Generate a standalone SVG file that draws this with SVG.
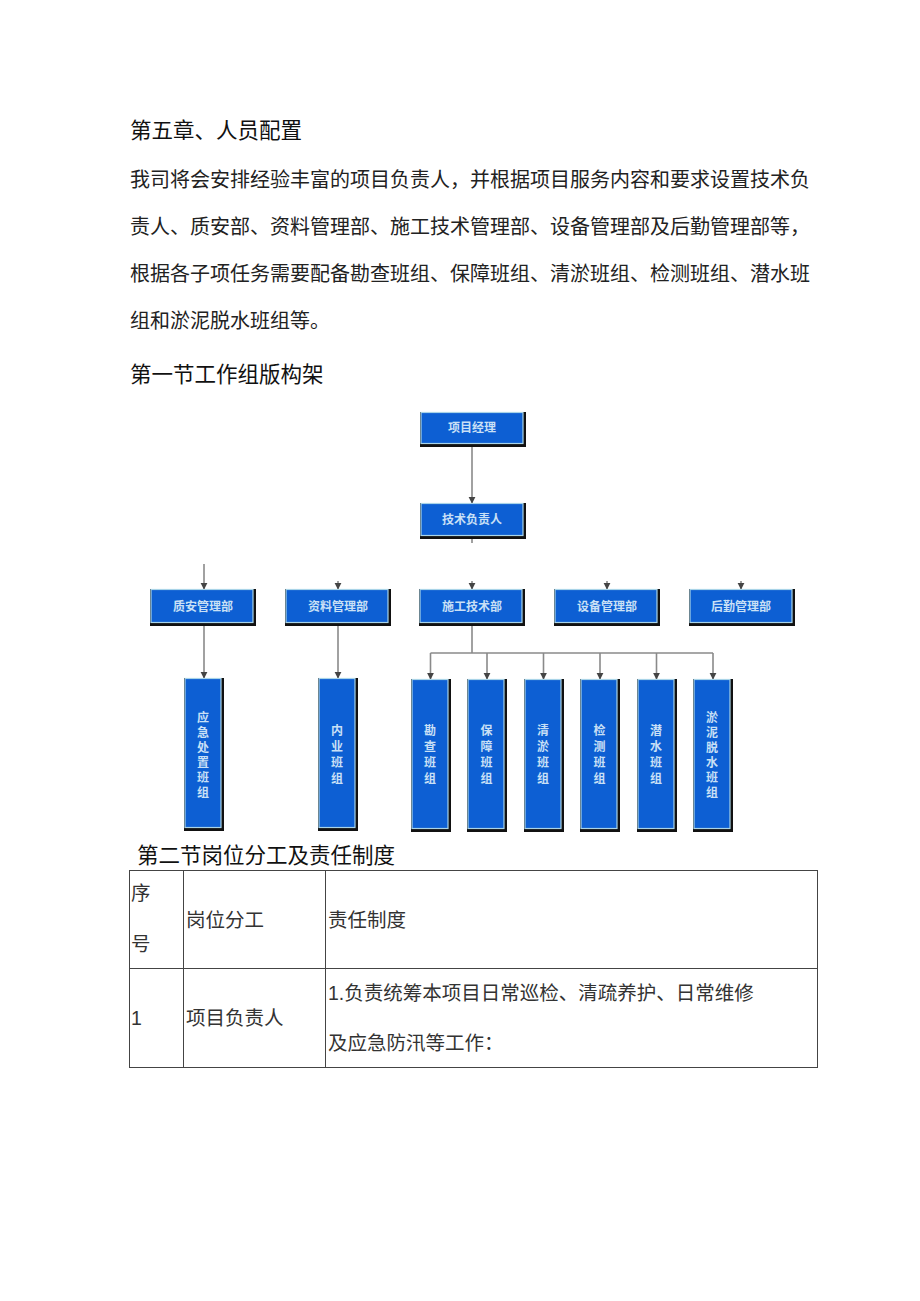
<svg xmlns="http://www.w3.org/2000/svg" width="920" height="1301" viewBox="0 0 920 1301">
<style>
.h{font-family:"Noto Sans CJK SC","Liberation Sans",sans-serif;font-size:21.5px;fill:#111}
.b{font-family:"Liberation Serif","Noto Sans CJK SC",serif;font-size:20px;fill:#222}
.t{font-family:"Liberation Sans","Noto Sans CJK SC",sans-serif;font-size:19.5px;fill:#333}
.bx{fill:#0d5fd3;stroke:#a9d4e8;stroke-width:1.2}
.sh{fill:#111}
.bt{font-family:"Noto Sans CJK SC",sans-serif;font-size:12px;font-weight:bold;fill:#c9e0f6;text-anchor:middle}
.ln{stroke:#8a8a8a;stroke-width:1.6;fill:none}
.tb{stroke:#444;stroke-width:1;fill:none}
</style>
<defs>
<marker id="ah" viewBox="0 0 10 10" refX="9" refY="5" markerWidth="4.5" markerHeight="4.5" orient="auto" markerUnits="strokeWidth">
<path d="M0,0 L10,5 L0,10 z" fill="#444"/>
</marker>
</defs>
<rect width="920" height="1301" fill="#fff"/>

<text class="h" x="130" y="138">第五章、人员配置</text>
<text class="b" x="130" y="187">我司将会安排经验丰富的项目负责人，并根据项目服务内容和要求设置技术负</text>
<text class="b" x="130" y="234">责人、质安部、资料管理部、施工技术管理部、设备管理部及后勤管理部等，</text>
<text class="b" x="130" y="281">根据各子项任务需要配备勘查班组、保障班组、清淤班组、检测班组、潜水班</text>
<text class="b" x="130" y="328">组和淤泥脱水班组等。</text>
<text class="h" x="130" y="382">第一节工作组版构架</text>

<g id="connectors">
<line class="ln" x1="472" y1="446" x2="472" y2="503" marker-end="url(#ah)"/>
<line class="ln" x1="472" y1="538" x2="472" y2="543"/>
<line class="ln" x1="204" y1="564" x2="204" y2="589" marker-end="url(#ah)"/>
<line class="ln" x1="338" y1="581" x2="338" y2="589" marker-end="url(#ah)"/>
<line class="ln" x1="472" y1="581" x2="472" y2="589" marker-end="url(#ah)"/>
<line class="ln" x1="607" y1="581" x2="607" y2="589" marker-end="url(#ah)"/>
<line class="ln" x1="741" y1="581" x2="741" y2="589" marker-end="url(#ah)"/>
<line class="ln" x1="204" y1="626" x2="204" y2="678" marker-end="url(#ah)"/>
<line class="ln" x1="338" y1="626" x2="338" y2="678" marker-end="url(#ah)"/>
<line class="ln" x1="472" y1="626" x2="472" y2="653"/>
<line class="ln" x1="430.5" y1="653" x2="713" y2="653"/>
<line class="ln" x1="430.5" y1="653" x2="430.5" y2="679" marker-end="url(#ah)"/>
<line class="ln" x1="487" y1="653" x2="487" y2="679" marker-end="url(#ah)"/>
<line class="ln" x1="543.5" y1="653" x2="543.5" y2="679" marker-end="url(#ah)"/>
<line class="ln" x1="600" y1="653" x2="600" y2="679" marker-end="url(#ah)"/>
<line class="ln" x1="656.5" y1="653" x2="656.5" y2="679" marker-end="url(#ah)"/>
<line class="ln" x1="713" y1="653" x2="713" y2="679" marker-end="url(#ah)"/>
</g>

<g id="n-pm"><rect class="sh" x="420" y="412" width="106" height="35"/><rect class="bx" x="421" y="412.5" width="102" height="31"/><text class="bt" x="472" y="432">项目经理</text></g>
<g id="n-tech"><rect class="sh" x="420" y="503" width="106" height="36"/><rect class="bx" x="421" y="503.5" width="102" height="32"/><text class="bt" x="472" y="524">技术负责人</text></g>

<g id="n-qa"><rect class="sh" x="150" y="589" width="106" height="37"/><rect class="bx" x="151" y="589.5" width="102" height="33"/><text class="bt" x="203" y="611">质安管理部</text></g>
<g id="n-doc"><rect class="sh" x="285" y="589" width="106" height="37"/><rect class="bx" x="286" y="589.5" width="102" height="33"/><text class="bt" x="338" y="611">资料管理部</text></g>
<g id="n-cons"><rect class="sh" x="419" y="589" width="106" height="37"/><rect class="bx" x="420" y="589.5" width="102" height="33"/><text class="bt" x="472" y="611">施工技术部</text></g>
<g id="n-equip"><rect class="sh" x="554" y="589" width="106" height="37"/><rect class="bx" x="555" y="589.5" width="102" height="33"/><text class="bt" x="607" y="611">设备管理部</text></g>
<g id="n-log"><rect class="sh" x="689" y="589" width="106" height="37"/><rect class="bx" x="690" y="589.5" width="102" height="33"/><text class="bt" x="741" y="611">后勤管理部</text></g>

<g id="n-emg"><rect class="sh" x="184" y="678" width="40" height="153"/><rect class="bx" x="185" y="678.5" width="36" height="149"/><text class="bt"><tspan x="203" y="722">应</tspan><tspan x="203" y="737">急</tspan><tspan x="203" y="752">处</tspan><tspan x="203" y="767">置</tspan><tspan x="203" y="782">班</tspan><tspan x="203" y="797">组</tspan></text></g>
<g id="n-inner"><rect class="sh" x="318" y="678" width="40" height="153"/><rect class="bx" x="319" y="678.5" width="36" height="149"/><text class="bt"><tspan x="337" y="735">内</tspan><tspan x="337" y="751">业</tspan><tspan x="337" y="767">班</tspan><tspan x="337" y="783">组</tspan></text></g>

<g id="n-survey"><rect class="sh" x="411" y="679" width="40" height="153"/><rect class="bx" x="412" y="679.5" width="36" height="149"/><text class="bt"><tspan x="430" y="735">勘</tspan><tspan x="430" y="751">查</tspan><tspan x="430" y="767">班</tspan><tspan x="430" y="783">组</tspan></text></g>
<g id="n-guard"><rect class="sh" x="467" y="679" width="40" height="153"/><rect class="bx" x="468" y="679.5" width="36" height="149"/><text class="bt"><tspan x="486.5" y="735">保</tspan><tspan x="486.5" y="751">障</tspan><tspan x="486.5" y="767">班</tspan><tspan x="486.5" y="783">组</tspan></text></g>
<g id="n-dredge"><rect class="sh" x="524" y="679" width="40" height="153"/><rect class="bx" x="525" y="679.5" width="36" height="149"/><text class="bt"><tspan x="543" y="735">清</tspan><tspan x="543" y="751">淤</tspan><tspan x="543" y="767">班</tspan><tspan x="543" y="783">组</tspan></text></g>
<g id="n-test"><rect class="sh" x="580" y="679" width="40" height="153"/><rect class="bx" x="581" y="679.5" width="36" height="149"/><text class="bt"><tspan x="599.5" y="735">检</tspan><tspan x="599.5" y="751">测</tspan><tspan x="599.5" y="767">班</tspan><tspan x="599.5" y="783">组</tspan></text></g>
<g id="n-dive"><rect class="sh" x="637" y="679" width="40" height="153"/><rect class="bx" x="638" y="679.5" width="36" height="149"/><text class="bt"><tspan x="656" y="735">潜</tspan><tspan x="656" y="751">水</tspan><tspan x="656" y="767">班</tspan><tspan x="656" y="783">组</tspan></text></g>
<g id="n-dewater"><rect class="sh" x="693" y="679" width="40" height="153"/><rect class="bx" x="694" y="679.5" width="36" height="149"/><text class="bt"><tspan x="712" y="722">淤</tspan><tspan x="712" y="737">泥</tspan><tspan x="712" y="752">脱</tspan><tspan x="712" y="767">水</tspan><tspan x="712" y="782">班</tspan><tspan x="712" y="797">组</tspan></text></g>

<text class="h" x="137" y="863">第二节岗位分工及责任制度</text>

<g id="table">
<rect class="tb" x="129.5" y="870.5" width="688" height="197"/>
<line class="tb" x1="129.5" y1="968.5" x2="817.5" y2="968.5"/>
<line class="tb" x1="183.5" y1="870.5" x2="183.5" y2="1067.5"/>
<line class="tb" x1="325.5" y1="870.5" x2="325.5" y2="1067.5"/>
<text class="t" x="131" y="900">序</text>
<text class="t" x="131" y="951">号</text>
<text class="t" x="186" y="927">岗位分工</text>
<text class="t" x="328" y="927">责任制度</text>
<text class="t" x="131" y="1025">1</text>
<text class="t" x="186" y="1025">项目负责人</text>
<text class="t" x="328" y="1000">1.负责统筹本项目日常巡检、清疏养护、日常维修</text>
<text class="t" x="328" y="1050">及应急防汛等工作：</text>
</g>
</svg>
